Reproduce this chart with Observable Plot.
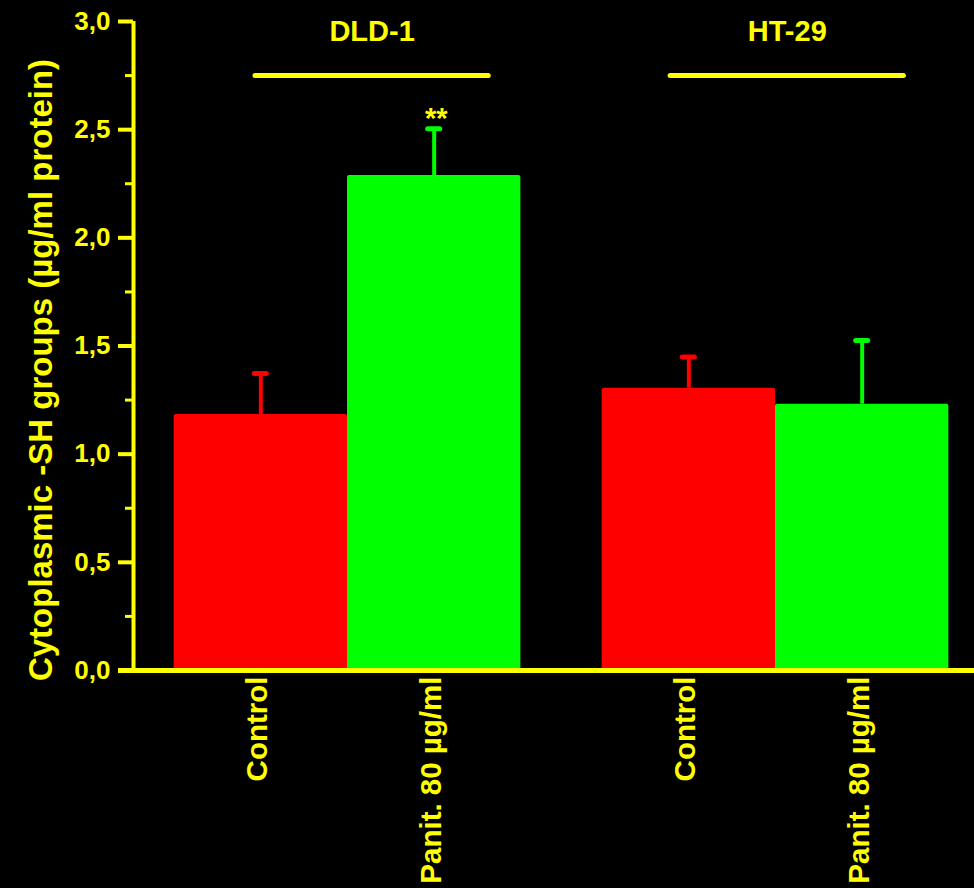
<!DOCTYPE html>
<html>
<head>
<meta charset="utf-8">
<script src="https://cdn.jsdelivr.net/npm/d3@7"></script>
<script src="https://cdn.jsdelivr.net/npm/@observablehq/plot@0.6"></script>
<style>
  html, body { margin: 0; padding: 0; background: #000; }
  #chart svg { display: block; }
</style>
</head>
<body>
<div id="chart"></div>
<script>
// ---- data ----
const groups = ["DLD-1", "HT-29"];
const treatments = ["Control", "Panit. 80 µg/ml"];
const means = [[1.183, 2.288], [1.305, 1.231]];
const errors = [[0.19, 0.216], [0.144, 0.295]];
const significance = [["", "**"], ["", ""]];
const yTicks = [0, 0.5, 1.0, 1.5, 2.0, 2.5, 3.0];
const yMinorTicks = [0.25, 0.75, 1.25, 1.75, 2.25, 2.75];
const xTicks = [0, 1, 2, 3];
const bracketLevel = 2.75;
const yTitle = "Cytoplasmic -SH groups (µg/ml protein)";
const treatmentColors = ["#ff0000", "#00ff00"];

// ---- layout helpers ----
const YELLOW = "#ffff00";
const barWidth = 0.81, barOffset = 0.19, groupSpan = 2;
const bracketStart = [0.57, 0.51], bracketLength = 1.09;
const bars = [];
groups.forEach((g, gi) => treatments.forEach((t, ti) => {
  const x1 = gi * groupSpan + barOffset + barWidth * ti;
  bars.push({group: g, treatment: t, value: means[gi][ti], err: errors[gi][ti],
    sig: significance[gi][ti], x1, x2: x1 + barWidth, xc: x1 + barWidth / 2,
    color: treatmentColors[ti]});
}));
const brackets = groups.map((g, gi) => {
  const x1 = gi * groupSpan + bracketStart[gi];
  return {group: g, x1, x2: x1 + bracketLength, xc: x1 + bracketLength / 2, y: bracketLevel};
});
const fmt = d => d.toFixed(1).replace(".", ",");

const chart = Plot.plot({
  width: 974,
  height: 888,
  marginLeft: 133,
  marginRight: 0,
  marginTop: 21,
  marginBottom: 218,
  style: {background: "#000", fontFamily: "'Liberation Sans', Arial, sans-serif", fontWeight: "bold", color: YELLOW},
  x: {domain: [0, 841 / 214], axis: null},
  y: {domain: [0, 3], axis: null},
  marks: [
    // bars
    Plot.rectY(bars, {x1: "x1", x2: "x2", y: "value", fill: "color", rx: 2}),
    // error bars
    Plot.ruleX(bars, {x: "xc", y1: "value", y2: d => d.value + d.err, stroke: "color", strokeWidth: 4}),
    Plot.ruleY(bars, {y: d => d.value + d.err, x1: d => d.xc - 0.028, x2: d => d.xc + 0.028,
      stroke: "color", strokeWidth: 5, strokeLinecap: "round"}),
    // significance stars
    Plot.text(bars.filter(d => d.sig), {x: "xc", y: d => d.value + d.err, text: "sig", fill: YELLOW,
      fontSize: 29, fontWeight: "bold", lineAnchor: "bottom", dx: 2, dy: -1}),
    // group brackets and labels
    Plot.ruleY(brackets, {y: "y", x1: "x1", x2: "x2", stroke: YELLOW, strokeWidth: 5, strokeLinecap: "round"}),
    Plot.text(brackets, {x: "xc", y: 3, text: "group", fill: YELLOW, fontSize: 29, fontWeight: "bold",
      lineAnchor: "middle", dy: 10}),
    // axes lines
    Plot.ruleX([0], {y1: 0, y2: 3, stroke: YELLOW, strokeWidth: 4}),
    Plot.ruleY([0], {x1: -15 / 214, x2: 841 / 214, stroke: YELLOW, strokeWidth: 5}),
    // y axis ticks and labels
    Plot.axisY({ticks: yTicks, tickSize: 15, tickPadding: 8, tickFormat: fmt, fontSize: 26,
      color: YELLOW, strokeWidth: 4, label: null}),
    Plot.axisY({ticks: yMinorTicks, tickSize: 8, tickFormat: () => "", color: YELLOW, strokeWidth: 3, label: null}),
    // x axis small ticks
    Plot.axisX({ticks: xTicks, tickSize: 3, tickFormat: () => "", color: YELLOW, strokeWidth: 2, label: null}),
    // category labels
    Plot.text(bars, {x: "xc", y: 0, text: "treatment", rotate: -90, textAnchor: "end", lineAnchor: "middle",
      dx: -3, dy: 6, fill: YELLOW, fontSize: 29.5, fontWeight: "bold"}),
    // y title
    Plot.text([yTitle], {frameAnchor: "left", dx: -92, dy: 24, rotate: -90, text: d => d,
      textAnchor: "middle", fill: YELLOW, fontSize: 33, fontWeight: "bold", lineAnchor: "middle"})
  ]
});
document.getElementById("chart").appendChild(chart);
</script>
</body>
</html>
